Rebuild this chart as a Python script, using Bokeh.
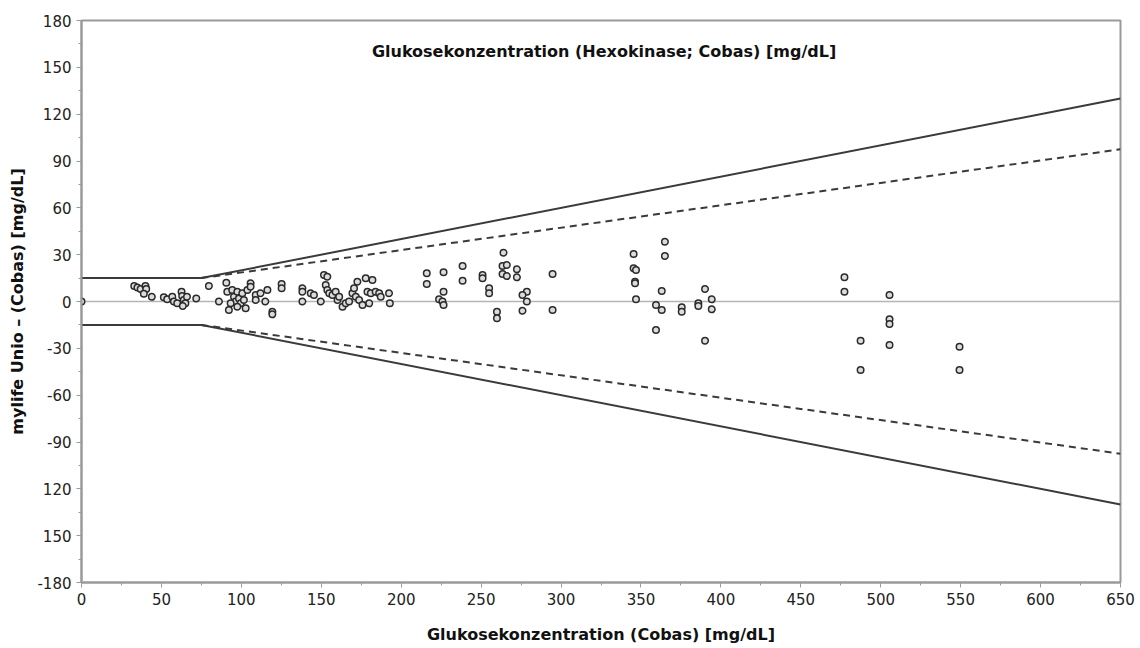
from bokeh.plotting import figure
from bokeh.models import Range1d, FixedTicker, Label
from bokeh.embed import file_html
from bokeh.resources import INLINE

# Reference glucose (Cobas) [mg/dL]
cobas = [0, 33, 35, 37, 40, 40.5, 39, 44,
         51.5, 53.6, 56.8, 57.8, 59.9, 62.6, 63, 64, 65, 66, 63.4, 71.8, 79.7,
         86, 90.6, 91.2, 92.2, 94.3, 95.4, 96.4, 97.5, 98.5, 99.6, 100.6, 101.6, 102.7, 103.8,
         93.3, 97.5, 105.8, 105.8, 109, 109, 112, 115, 116.3, 119.4, 119.4, 125.2, 125.2,
         138.2, 138.2, 138.2, 143.4, 145.4,
         149.7, 151.7, 153.8, 152.8, 153.8, 155, 157, 159, 160.2, 161.2, 163.3, 165.3, 167.4,
         169.5, 170.5, 172.6, 171.6, 173.7, 175.8, 177.8, 182, 178.9, 180, 181, 184, 186.2,
         187.2, 192.4, 192.9,
         216, 216, 226.5, 226.5, 223.7, 225.8, 226.5, 238.4, 238.4, 250.9, 250.9, 255, 255,
         259.9, 259.9, 264, 263.4, 266.1, 263.4, 266.1, 272.4, 272.4, 278.6, 275.9, 278.6,
         275.9, 294.7, 294.7,
         345.4, 345.4, 346.9, 346.3, 346.3, 346.9, 365, 365, 363, 359.4, 363, 359.4,
         375.5, 375.5, 385.9, 385.9, 390.1, 394.3, 394.3, 390.1,
         477.3, 477.3, 505.5, 505.5, 505.5, 505.5, 487.4, 487.4, 549.3, 549.3]

# Difference mylife Unio - Cobas [mg/dL]
diff = [0, 10, 9, 8, 10, 8, 5, 3,
        2.7, 1.4, 3.1, 0, -1.2, 6.3, 3.5, 1, -1.2, 3.1, -2.9, 2, 10,
        0, 12, 6.3, -5.4, 7.4, 3.1, 0, 6.3, 2, -1.2, 5.3, 1, -4.4, 7.4,
        -1.2, -3.3, 11.7, 9.5, 4.2, 1, 5.3, 0, 7.4, -6.5, -8.2, 11.2, 8.5,
        8.5, 6.3, 0, 5.3, 4.2,
        0, 17, 15.9, 10.6, 7.4, 5.3, 4.2, 6.3, 1, 3.1, -3.3, -1.2, 0,
        5.3, 8.5, 12.7, 3.1, 1, -2.2, 14.9, 13.8, 6.3, -1.2, 5.3, 6.3, 5.3,
        3.1, 5.3, -1.2,
        18.1, 11.2, 18.7, 6.3, 1.4, 0, -2.2, 22.8, 13.3, 17, 14.9, 8.5, 5.3,
        -6.5, -10.8, 31.3, 22.8, 23.4, 17.6, 16.3, 20.6, 15.5, 6.3, 4.2, 0,
        -5.9, 17.6, -5.4,
        30.4, 21.3, 20.2, 12.7, 11.7, 1.4, 38.3, 29.2, 6.7, -2.2, -5.4, -18.3,
        -3.7, -6.5, -1.2, -2.9, 8, 1.4, -5, -25.1,
        15.5, 6.3, 4.2, -11.4, -14.4, -27.9, -25.1, -43.9, -29, -43.9]

# Acceptance limits
limit_x = [0, 75, 650]
limit20_upper = [15, 15, 130]
limit20_lower = [-15, -15, -130]
limit15_x = [75, 650]
limit15_upper = [15, 97.5]
limit15_lower = [-15, -97.5]

y_ticks = [-180, -150, -120, -90, -60, -30, 0, 30, 60, 90, 120, 150, 180]
y_tick_labels = ["-180", "150", "120", "-90", "-60", "-30", "0", "30", "60", "90", "120", "150", "180"]
x_ticks = list(range(0, 651, 50))

title_text = "Glukosekonzentration (Hexokinase; Cobas) [mg/dL]"
x_label = "Glukosekonzentration (Cobas) [mg/dL]"
y_label = "mylife Unio \u2013 (Cobas) [mg/dL]"

FONT = "DejaVu Sans"

p = figure(width=1140, height=648, output_backend="svg", toolbar_location=None,
           x_range=Range1d(0, 650), y_range=Range1d(-180, 180),
           min_border_left=81, min_border_right=20, min_border_top=20, min_border_bottom=66)

p.xgrid.visible = False
p.ygrid.visible = False
p.outline_line_color = "#9a9a9a"
p.outline_line_width = 2
p.background_fill_color = "white"
p.border_fill_color = "white"

# zero line
p.line([0, 650], [0, 0], line_color="#b5b5b5", line_width=1.5)

# limits
p.line(limit_x, limit20_upper, line_color="#3a3a3a", line_width=2)
p.line(limit_x, limit20_lower, line_color="#3a3a3a", line_width=2)
p.line(limit15_x, limit15_upper, line_color="#3a3a3a", line_width=2, line_dash="7 5")
p.line(limit15_x, limit15_lower, line_color="#3a3a3a", line_width=2, line_dash="7 5")

p.scatter(cobas, diff, marker="circle", size=6.5, fill_color="#dcdcdc",
          line_color="#2a2a2a", line_width=1.5)

p.add_layout(Label(x=326.9, y=160, text=title_text, text_align="center",
                   text_baseline="middle", text_font=FONT, text_font_size="16px",
                   text_font_style="bold", text_color="#111111"))

for ax in (p.xaxis[0], p.yaxis[0]):
    ax.axis_line_color = "#9a9a9a"
    ax.axis_line_width = 2
    ax.major_tick_line_color = "#9a9a9a"
    ax.minor_tick_line_color = "#9a9a9a"
    ax.major_tick_out = 5
    ax.major_tick_in = 0
    ax.minor_tick_out = 3
    ax.minor_tick_in = 0
    ax.major_label_text_font = FONT
    ax.major_label_text_font_size = "15px"
    ax.major_label_text_color = "#222222"
    ax.axis_label_text_font = FONT
    ax.axis_label_text_font_size = "16px"
    ax.axis_label_text_font_style = "bold"
    ax.axis_label_text_color = "#111111"

p.xaxis[0].ticker = FixedTicker(ticks=x_ticks, minor_ticks=list(range(25, 650, 50)))
p.yaxis[0].ticker = FixedTicker(ticks=y_ticks, minor_ticks=list(range(-165, 180, 30)))
p.yaxis[0].major_label_overrides = {t: l for t, l in zip(y_ticks, y_tick_labels)}
p.xaxis[0].axis_label = x_label
p.yaxis[0].axis_label = y_label
p.xaxis[0].axis_label_standoff = 17
p.yaxis[0].axis_label_standoff = 7

open("out.html", "w").write(file_html(p, INLINE))
